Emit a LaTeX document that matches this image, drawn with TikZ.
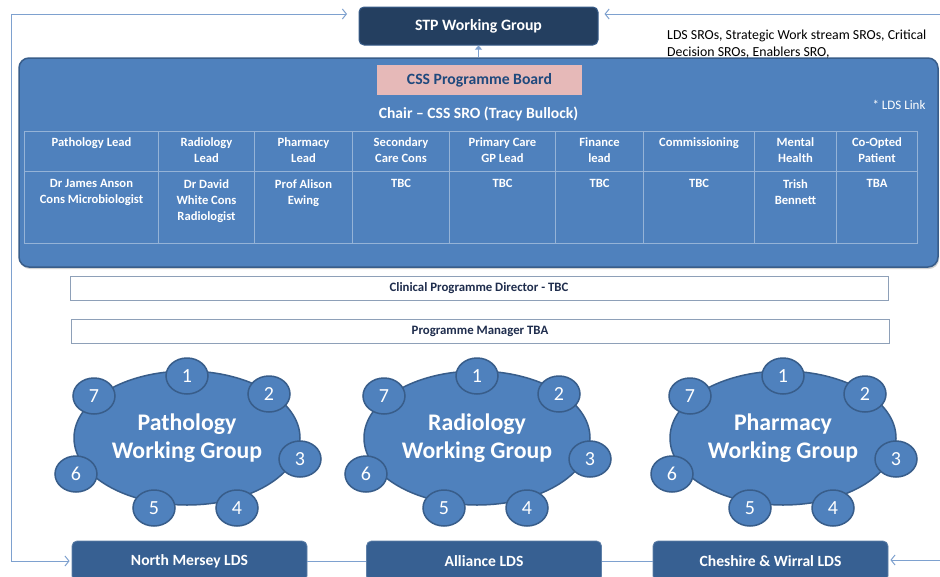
\documentclass[tikz,border=0pt]{standalone}
\usepackage{fontspec}
\setmainfont{Carlito}
\usetikzlibrary{arrows.meta,shapes.geometric,shadows}
\definecolor{flowc}{HTML}{7EA1CF}
\definecolor{navy}{HTML}{243F60}
\definecolor{mainblue}{HTML}{4F81BD}
\definecolor{mainedge}{HTML}{385D8A}
\definecolor{pinkc}{HTML}{E6B9B8}
\definecolor{boardtxt}{HTML}{1F497D}
\definecolor{gridc}{HTML}{95B3D7}
\definecolor{ldsc}{HTML}{376092}
\definecolor{darktxt}{HTML}{1F2D4D}
\definecolor{greyedge}{HTML}{8EA0B8}
\tikzset{
  flow/.style={draw=flowc, line width=1pt},
  arr/.style={flow, -{Straight Barb[length=4pt,width=10pt]}},
  uparr/.style={draw=flowc, line width=1.5pt, -{Triangle[length=4pt,width=7pt]}},
  stpbox/.style={rectangle, rounded corners=5pt, fill=navy, draw=mainedge, line width=1pt, text=white,
    font=\fontsize{15.8}{18}\selectfont\bfseries, minimum width=239pt, minimum height=38pt},
  mainbox/.style={rectangle, rounded corners=10pt, fill=mainblue, draw=mainedge, line width=1.5pt,
    minimum width=919pt, minimum height=209pt, drop shadow={shadow xshift=1pt,shadow yshift=-2pt,opacity=0.35}},
  boardbox/.style={rectangle, fill=pinkc, text=boardtxt, font=\fontsize{15.7}{18}\selectfont\bfseries,
    minimum width=205pt, minimum height=30pt},
  whitetxt/.style={text=white, inner sep=2pt},
  cell/.style={rectangle, draw=gridc, line width=1pt, inner sep=0pt},
  celltext/.style={text=white, align=center, inner sep=2pt, font=\fontsize{12.6}{15.8}\selectfont\bfseries},
  rolebox/.style={rectangle, fill=white, draw=greyedge, line width=1pt, text=darktxt,
    font=\fontsize{12.8}{14}\selectfont\bfseries, minimum height=24pt},
  bigell/.style={ellipse, fill=mainblue, draw=mainedge, line width=1.5pt, minimum width=226pt,
    minimum height=134pt, text=white, align=center, font=\fontsize{23.8}{28}\selectfont\bfseries},
  satell/.style={ellipse, fill=mainblue, draw=mainedge, line width=1.5pt, minimum width=42pt,
    minimum height=36pt, inner sep=0pt, text=white, font=\fontsize{20}{22}\selectfont},
  ldsbox/.style={rectangle, rounded corners=5pt, fill=ldsc, draw=ldsc!80!white, line width=0.8pt, text=white,
    font=\fontsize{15.6}{17}\selectfont\bfseries, minimum width=235pt, minimum height=40pt},
}
\begin{document}
\begin{tikzpicture}[x=1pt,y=-1pt]
\useasboundingbox (0,0) rectangle (940,576);
\fill[white] (0,0) rectangle (940,576);

% STP working group
\node[stpbox] (stp) at (478.5,26) {STP Working Group};

% feedback line end points
\coordinate (lc) at (11,300);
\coordinate (ltop) at (347,14);
\coordinate (rt) at (940,14);
\coordinate (rb) at (940,560);

% main board box
\node[mainbox] (main) at (478.5,162.5) {};
\draw[uparr] (main.north) -- (stp.south);

\node[anchor=west, align=left, inner sep=0pt, font=\fontsize{13.8}{17.5}\selectfont] (srotxt) at (667,44)
  {LDS SROs, Strategic Work stream SROs, Critical\\Decision SROs, Enablers SRO,};

\node[boardbox] (board) at (479.5,80) {CSS Programme Board};
\node[whitetxt, font=\fontsize{15.6}{18}\selectfont\bfseries] (chair) at (478.5,114) {Chair -- CSS SRO (Tracy Bullock)};
\node[whitetxt, font=\fontsize{13}{14}\selectfont] (ldslink) at (899,105) {* LDS Link};

% table
\foreach \xa/\xb/\h/\d [count=\i] in {
  24/158/{Pathology Lead}/{Dr James Anson\\Cons Microbiologist},
  158/254/{Radiology\\Lead}/{Dr David\\White Cons\\Radiologist},
  254/352/{Pharmacy\\Lead}/{Prof Alison\\Ewing},
  352/449/{Secondary\\Care Cons}/{TBC},
  449/555/{Primary Care\\GP Lead}/{TBC},
  555/643/{Finance\\lead}/{TBC},
  643/754/{Commissioning}/{TBC},
  754/836/{Mental\\Health}/{Trish\\Bennett},
  836/917/{Co-Opted\\Patient}/{TBA}}{
  \node[cell, anchor=north west, minimum width={\xb-\xa}, minimum height=40] (h\i) at (\xa,131) {};
  \node[cell, anchor=north west, minimum width={\xb-\xa}, minimum height=72] (d\i) at (\xa,171) {};
  \node[celltext, anchor=north] (ht\i) at ([yshift=-4.5pt]h\i.north) {\h};
  \node[celltext, anchor=north] (dt\i) at ([yshift=-6.5pt]d\i.north) {\d};
}

% role boxes
\node[rolebox, minimum width=818pt] (cpd) at (479,288) {Clinical Programme Director - TBC};
\node[rolebox, minimum width=818pt] (pm) at (480,331) {Programme Manager TBA};

% working groups
\foreach \cx/\nm/\lab in {187/path/Pathology, 477/rad/Radiology, 783/pharm/Pharmacy}{
  \node[bigell] (\nm) at (\cx,438) {\lab\\Working Group};
  \node[satell] (\nm1) at ([xshift=0pt,yshift=62pt]\nm.center) {1};
  \node[satell] (\nm2) at ([xshift=82pt,yshift=44pt]\nm.center) {2};
  \node[satell] (\nm3) at ([xshift=113pt,yshift=-21pt]\nm.center) {3};
  \node[satell] (\nm4) at ([xshift=50pt,yshift=-70pt]\nm.center) {4};
  \node[satell] (\nm5) at ([xshift=-33pt,yshift=-70pt]\nm.center) {5};
  \node[satell] (\nm6) at ([xshift=-111pt,yshift=-36pt]\nm.center) {6};
  \node[satell] (\nm7) at ([xshift=-93pt,yshift=42pt]\nm.center) {7};
}

% LDS boxes
\node[ldsbox] (nm) at (189.5,561) {North Mersey LDS};
\node[ldsbox] (al) at (484,561) {Alliance LDS};
\node[ldsbox] (cw) at (770.5,561) {Cheshire \& Wirral LDS};
\draw[flow] (nm) -- (al);
\draw[flow] (al) -- (cw);

% arrows
\draw[arr] (lc) |- (ltop);
\draw[arr, shorten >=2pt] (lc) |- (nm.west);
\draw[arr, shorten >=6pt] (rt) -- (stp.east |- rt);
\draw[arr, shorten >=2pt] (rb) -- (rb -| cw.east);
\end{tikzpicture}
\end{document}
